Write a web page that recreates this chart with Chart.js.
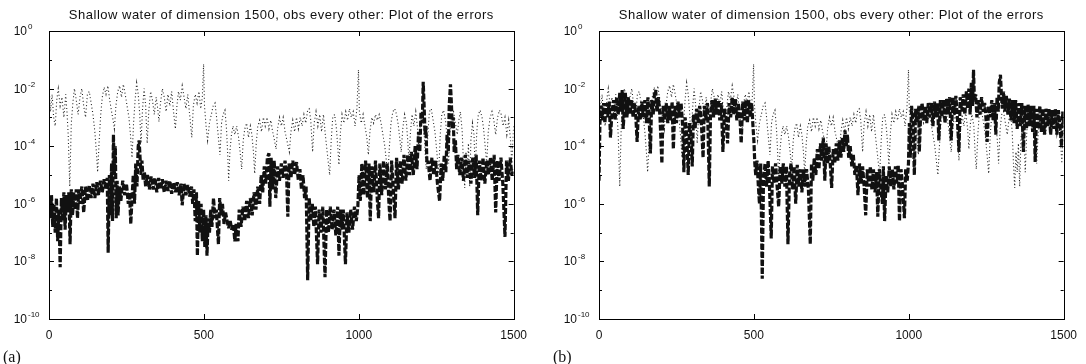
<!DOCTYPE html>
<html>
<head>
<meta charset="utf-8">
<script src="https://cdn.jsdelivr.net/npm/chart.js@4.4.0/dist/chart.umd.min.js"></script>
<style>
    body { margin: 0; background: #fff; width: 1086px; height: 364px; position: relative; overflow: hidden; }
    .panel { position: absolute; top: 0; }
    .tag { position: absolute; top: 348px; font: 16px "Liberation Serif", "Times New Roman", serif; color: #111; }
</style>
</head>
<body>
<canvas id="chartA" class="panel" style="left:0px" width="536" height="364"></canvas>
<canvas id="chartB" class="panel" style="left:550px" width="536" height="364"></canvas>
<div class="tag" style="left:3px">(a)</div>
<div class="tag" style="left:553px">(b)</div>

<script>
// Shallow water errors - two log plots, dotted reference error + thick dashed filter error

const titleText = 'Shallow water of dimension 1500, obs every other: Plot of the errors';
const xTicks = [0, 500, 1000, 1500];
const yDecades = [0, -1, -2, -3, -4, -5, -6, -7, -8, -9, -10];
const yLabelled = [0, -2, -4, -6, -8, -10];

// values as [x, log10(error)]
// dotted curve (same in both panels)
const dottedErr = [
    [0,-1.9],[5,-2.8],[10,-2.2],[15,-3.0],[20,-3.3],[25,-2.4],[30,-2.0],[36,-2.6],[42,-2.3],[48,-3.0],
    [54,-2.2],[58,-2.8],[62,-3.6],[67,-5.4],[72,-3.2],[77,-2.5],[82,-2.0],[88,-2.4],[94,-2.9],[100,-2.3],
    [106,-2.0],[112,-2.6],[118,-3.0],[124,-2.2],[130,-2.1],[136,-2.5],[142,-2.9],[148,-3.5],[153,-4.2],[157,-4.9],
    [162,-3.8],[167,-2.9],[172,-2.3],[178,-1.95],[184,-2.2],[190,-1.9],[196,-2.4],[202,-2.8],[207,-3.1],[211,-3.4],
    [216,-2.6],[222,-2.1],[228,-1.9],[234,-2.3],[240,-1.85],[246,-2.2],[252,-2.6],[258,-3.0],[263,-3.6],[268,-4.4],
    [273,-3.2],[278,-2.4],[283,-1.8],[288,-2.2],[293,-2.9],[297,-3.9],[302,-2.7],[307,-2.0],[312,-2.6],[317,-3.9],
    [322,-2.8],[328,-2.1],[334,-2.4],[340,-2.9],[346,-2.3],[351,-2.7],[355,-3.15],[360,-2.5],[366,-2.0],[372,-2.3],
    [378,-2.8],[384,-2.2],[390,-2.6],[396,-2.1],[402,-2.8],[408,-3.4],[413,-2.6],[418,-2.1],[424,-2.4],[430,-1.9],
    [436,-2.3],[442,-2.7],[448,-2.2],[454,-2.9],[461,-3.7],[466,-2.6],[472,-2.2],[478,-2.5],[484,-2.1],[490,-2.7],
    [495,-2.3],[499,-1.15],[502,-2.6],[507,-3.3],[512,-3.8],[518,-3.2],[524,-2.9],[530,-2.6],[536,-2.5],[541,-3.0],
    [546,-3.6],[552,-4.3],[557,-3.2],[562,-2.9],[568,-2.75],[573,-3.4],[577,-4.3],[580,-5.2],[584,-4.2],[589,-3.6],
    [594,-3.3],[600,-3.6],[606,-3.3],[612,-3.7],[617,-4.2],[622,-4.8],[627,-3.8],[632,-3.4],[638,-3.2],[644,-3.7],
    [650,-3.3],[655,-3.6],[660,-4.2],[664,-4.95],[669,-3.9],[674,-3.3],[680,-3.1],[686,-3.5],[692,-3.0],[698,-3.3],
    [704,-3.0],[710,-3.4],[716,-3.1],[722,-3.5],[728,-3.8],[733,-4.1],[738,-3.4],[744,-3.0],[750,-3.3],[756,-3.0],
    [762,-3.5],[768,-3.8],[772,-4.0],[776,-4.2],[781,-3.5],[787,-3.1],[793,-3.5],[799,-3.0],[805,-3.4],[811,-3.0],
    [817,-3.3],[823,-2.9],[829,-3.2],[835,-2.75],[840,-2.7],[845,-3.1],[851,-4.2],[856,-3.2],[862,-2.8],[868,-3.3],
    [874,-2.9],[880,-3.5],[886,-2.9],[892,-3.6],[898,-4.2],[902,-4.6],[906,-5.0],[911,-3.8],[916,-3.0],[922,-2.9],
    [928,-3.4],[932,-4.0],[936,-4.65],[941,-3.5],[946,-2.9],[952,-3.2],[958,-2.8],[964,-3.1],[970,-2.7],[976,-3.0],
    [982,-2.8],[988,-3.3],[994,-2.7],[999,-1.35],[1002,-2.8],[1008,-3.2],[1014,-2.9],[1020,-3.3],[1026,-3.7],[1031,-4.3],
    [1036,-3.5],[1042,-3.0],[1048,-3.2],[1054,-2.9],[1060,-3.1],[1066,-2.9],[1072,-3.2],[1078,-3.6],[1084,-4.0],[1090,-4.6],
    [1094,-5.0],[1099,-4.0],[1104,-3.2],[1110,-2.8],[1116,-2.7],[1122,-2.9],[1128,-3.3],[1133,-3.8],[1137,-4.2],[1142,-3.4],
    [1148,-2.9],[1154,-3.2],[1158,-3.8],[1162,-4.5],[1167,-3.5],[1172,-2.9],[1178,-3.3],[1184,-2.8],[1190,-3.4],[1194,-4.1],
    [1199,-3.2],[1204,-2.9],[1210,-3.3],[1214,-4.2],[1218,-4.8],[1223,-3.6],[1228,-2.8],[1234,-2.7],[1240,-3.1],[1246,-3.5],
    [1252,-4.2],[1258,-4.95],[1263,-3.6],[1268,-2.9],[1274,-2.75],[1280,-3.1],[1286,-3.8],[1290,-4.6],[1295,-3.4],[1300,-2.9],
    [1306,-2.8],[1312,-3.2],[1318,-3.6],[1323,-3.1],[1328,-2.8],[1334,-3.5],[1338,-4.6],[1342,-5.45],[1346,-4.2],[1350,-4.9],
    [1354,-3.9],[1358,-5.4],[1362,-3.8],[1367,-3.2],[1372,-3.6],[1376,-4.9],[1381,-3.5],[1386,-2.9],[1392,-2.75],[1398,-3.0],
    [1403,-3.4],[1408,-4.0],[1413,-4.6],[1418,-3.5],[1424,-3.0],[1430,-2.8],[1436,-3.1],[1442,-3.6],[1448,-3.0],[1454,-2.75],
    [1460,-2.9],[1466,-3.3],[1472,-3.0],[1478,-3.6],[1484,-3.1],[1490,-3.8],[1494,-4.6],[1500,-3.3]
];

// thick dashed curve, panel (a)
const dashedErrA = [
    [0,-5.9],[4,-6.5],[8,-5.7],[12,-6.8],[16,-6.0],[20,-7.0],[24,-5.8],[28,-7.3],[32,-6.2],[36,-8.2],
    [40,-5.8],[44,-6.6],[48,-5.6],[52,-6.9],[56,-5.7],[60,-6.3],[64,-5.6],[68,-7.4],[72,-5.5],[76,-6.4],
    [80,-5.6],[84,-6.2],[88,-5.5],[92,-6.5],[96,-5.5],[100,-6.0],[106,-5.4],[112,-6.3],[118,-5.4],[124,-5.9],
    [130,-5.35],[136,-5.8],[142,-5.3],[148,-5.8],[154,-5.25],[160,-5.7],[166,-5.2],[172,-5.6],[178,-5.15],[184,-5.5],
    [188,-5.1],[191,-7.7],[195,-5.0],[199,-6.4],[202,-4.6],[205,-6.6],[208,-3.6],[211,-5.0],[214,-4.0],[217,-6.5],
    [220,-5.2],[223,-6.4],[227,-5.4],[232,-5.9],[238,-5.2],[244,-5.7],[250,-5.3],[256,-6.0],[260,-5.6],[264,-6.7],
    [268,-5.8],[272,-5.0],[276,-6.0],[280,-4.6],[284,-5.4],[288,-4.0],[291,-3.8],[294,-4.4],[297,-5.0],[300,-4.5],
    [304,-5.2],[308,-4.9],[312,-5.4],[318,-5.0],[324,-5.5],[330,-5.05],[336,-5.5],[342,-5.1],[348,-5.6],[354,-5.1],
    [360,-5.5],[366,-5.15],[372,-5.6],[378,-5.2],[384,-5.55],[390,-5.2],[396,-5.65],[402,-5.25],[408,-5.6],[414,-5.25],
    [420,-5.7],[426,-5.3],[430,-6.05],[436,-5.3],[442,-5.7],[448,-5.35],[454,-5.75],[460,-5.4],[464,-6.0],[468,-5.5],
    [472,-6.6],[476,-5.6],[479,-7.8],[483,-5.9],[487,-7.0],[491,-6.0],[495,-7.3],[499,-6.2],[503,-7.5],[507,-6.4],
    [510,-7.8],[514,-6.5],[518,-7.0],[522,-6.2],[526,-6.8],[531,-5.8],[536,-6.5],[540,-6.2],[544,-6.9],[547,-7.4],
    [551,-5.8],[556,-6.4],[560,-6.0],[565,-6.7],[570,-6.3],[575,-6.6],[580,-6.85],[585,-6.6],[590,-6.9],[595,-6.7],
    [600,-7.3],[604,-6.7],[610,-7.3],[614,-6.2],[620,-6.8],[626,-6.1],[632,-6.6],[638,-5.9],[644,-6.5],[650,-5.8],
    [656,-6.4],[662,-5.6],[668,-6.2],[674,-5.4],[680,-6.0],[685,-5.0],[690,-5.6],[695,-4.7],[700,-5.3],[705,-4.4],
    [710,-4.25],[713,-6.1],[717,-4.4],[722,-5.5],[727,-4.5],[732,-5.8],[738,-4.7],[744,-5.2],[750,-4.6],[756,-5.1],
    [762,-4.5],[767,-5.0],[771,-6.45],[775,-4.6],[781,-5.1],[787,-4.5],[793,-5.0],[799,-4.55],[805,-5.2],[810,-4.8],
    [815,-5.5],[820,-5.0],[825,-5.8],[830,-5.4],[835,-8.65],[840,-5.8],[845,-6.6],[850,-6.0],[855,-6.8],[860,-6.1],
    [867,-8.1],[872,-6.2],[878,-7.0],[884,-6.1],[891,-8.55],[896,-6.2],[902,-7.0],[908,-6.1],[914,-6.9],[920,-6.2],
    [926,-7.1],[932,-6.1],[936,-7.8],[941,-6.2],[946,-6.9],[950,-6.2],[957,-8.1],[962,-6.3],[968,-7.0],[974,-6.2],
    [980,-6.9],[986,-6.1],[992,-6.6],[997,-6.1],[1001,-5.0],[1005,-5.9],[1010,-4.6],[1016,-5.7],[1022,-4.5],[1028,-5.8],
    [1033,-4.6],[1037,-6.6],[1042,-4.7],[1048,-5.6],[1054,-4.5],[1060,-5.9],[1064,-6.5],[1068,-4.6],[1074,-5.7],[1080,-4.5],
    [1086,-5.5],[1092,-4.6],[1097,-5.9],[1101,-6.6],[1106,-4.5],[1112,-5.6],[1117,-6.5],[1122,-4.4],[1128,-5.5],[1134,-4.5],
    [1140,-5.3],[1146,-4.3],[1152,-5.2],[1158,-4.3],[1164,-5.0],[1170,-4.2],[1176,-5.0],[1182,-4.0],[1188,-4.8],[1193,-3.5],
    [1197,-4.2],[1201,-2.8],[1205,-3.2],[1208,-1.76],[1211,-2.6],[1214,-3.6],[1217,-3.3],[1220,-4.6],[1224,-4.5],[1230,-5.2],
    [1236,-4.4],[1242,-5.0],[1248,-4.5],[1254,-5.3],[1261,-5.9],[1266,-4.6],[1271,-5.2],[1276,-4.3],[1281,-4.9],[1285,-3.6],
    [1289,-4.2],[1292,-2.6],[1296,-1.85],[1299,-2.5],[1302,-3.4],[1305,-3.0],[1308,-4.2],[1312,-3.8],[1316,-4.8],[1320,-4.3],
    [1326,-5.0],[1332,-4.4],[1338,-5.2],[1344,-4.3],[1350,-5.1],[1356,-4.5],[1362,-5.3],[1368,-4.4],[1374,-5.1],[1379,-4.3],
    [1384,-6.4],[1389,-4.5],[1395,-5.2],[1401,-4.4],[1407,-5.3],[1413,-4.5],[1419,-5.0],[1425,-4.4],[1431,-5.2],[1437,-4.3],
    [1442,-6.3],[1447,-4.5],[1453,-5.2],[1459,-4.4],[1465,-5.3],[1472,-7.15],[1477,-4.5],[1483,-5.2],[1489,-4.4],[1494,-5.0],
    [1500,-4.8]
];

// thick dashed curve, panel (b)
const dashedErrB = [
    [0,-5.2],[3,-3.2],[7,-2.6],[11,-3.1],[15,-2.5],[19,-3.2],[23,-2.5],[28,-3.0],[33,-2.45],[37,-3.7],
    [42,-2.8],[47,-2.4],[52,-3.1],[57,-2.3],[62,-2.9],[67,-2.15],[71,-2.8],[75,-2.05],[78,-3.4],[85,-2.15],
    [90,-3.0],[95,-2.3],[100,-2.9],[105,-2.4],[110,-3.0],[115,-2.5],[119,-3.0],[123,-3.85],[128,-2.6],[133,-3.1],
    [138,-2.45],[143,-3.0],[148,-2.4],[153,-3.2],[158,-2.3],[162,-3.0],[166,-4.25],[170,-2.4],[175,-2.9],[179,-2.2],
    [183,-2.05],[187,-2.8],[192,-2.3],[197,-3.0],[203,-4.6],[207,-2.6],[212,-3.1],[217,-2.5],[222,-3.2],[227,-2.6],
    [232,-3.1],[236,-2.45],[240,-4.1],[245,-2.6],[250,-3.2],[255,-2.45],[260,-3.0],[265,-2.5],[270,-3.3],[274,-4.9],
    [278,-3.0],[283,-3.5],[288,-5.0],[292,-3.2],[297,-3.6],[301,-4.7],[305,-2.9],[310,-3.4],[315,-2.7],[320,-3.2],
    [325,-2.6],[330,-3.1],[336,-4.4],[340,-2.6],[345,-3.1],[350,-2.5],[356,-5.4],[360,-2.9],[365,-2.4],[370,-3.0],
    [375,-2.35],[380,-2.9],[385,-2.4],[390,-3.1],[395,-2.5],[400,-4.2],[405,-2.7],[410,-3.0],[415,-3.9],[420,-2.5],
    [425,-3.0],[430,-2.3],[435,-2.9],[440,-2.35],[445,-3.1],[450,-2.5],[455,-3.0],[459,-3.9],[464,-2.45],[469,-3.1],
    [474,-2.4],[479,-3.2],[483,-2.4],[488,-3.0],[493,-2.5],[497,-3.3],[500,-3.8],[503,-4.6],[506,-5.0],[510,-4.5],
    [514,-5.3],[518,-6.0],[522,-4.6],[527,-8.6],[531,-5.2],[536,-4.6],[541,-5.4],[546,-4.5],[550,-5.3],[556,-7.2],
    [560,-4.7],[565,-5.3],[570,-4.6],[575,-5.4],[580,-6.1],[585,-4.7],[590,-5.3],[595,-4.6],[600,-5.4],[605,-4.7],
    [610,-7.4],[615,-5.0],[620,-4.6],[625,-5.5],[630,-4.7],[635,-6.0],[640,-4.65],[645,-5.4],[650,-4.8],[655,-5.6],
    [660,-4.8],[665,-5.4],[670,-4.8],[676,-5.5],[682,-7.4],[686,-4.6],[690,-5.2],[695,-4.4],[700,-5.0],[705,-4.1],
    [710,-4.8],[715,-3.9],[719,-4.5],[724,-3.7],[729,-5.2],[733,-3.9],[738,-4.6],[742,-4.0],[747,-4.7],[751,-5.45],
    [756,-4.1],[761,-4.6],[766,-3.9],[771,-4.5],[776,-3.8],[781,-4.4],[786,-3.7],[790,-4.2],[794,-3.45],[798,-4.0],
    [802,-3.6],[806,-4.4],[811,-4.0],[816,-4.7],[821,-4.3],[826,-5.0],[831,-4.65],[836,-5.7],[841,-4.6],[846,-5.3],
    [851,-4.7],[856,-5.4],[861,-6.4],[866,-4.8],[871,-5.4],[876,-4.7],[881,-5.5],[886,-4.8],[891,-5.6],[896,-4.9],
    [900,-6.45],[905,-4.8],[910,-5.5],[915,-6.0],[918,-4.7],[922,-6.6],[927,-5.0],[932,-5.6],[937,-4.7],[942,-5.4],
    [947,-4.8],[952,-5.5],[957,-4.7],[962,-5.3],[966,-4.65],[970,-6.6],[975,-4.8],[980,-5.4],[986,-6.5],[990,-4.8],
    [995,-5.2],[999,-4.6],[1002,-3.2],[1005,-4.4],[1009,-2.6],[1014,-3.2],[1018,-5.0],[1022,-2.7],[1027,-3.2],[1032,-2.6],
    [1034,-4.2],[1038,-3.0],[1043,-2.5],[1048,-3.1],[1053,-2.6],[1058,-3.2],[1063,-2.5],[1068,-3.0],[1073,-2.5],[1078,-3.3],
    [1083,-2.45],[1088,-3.0],[1093,-2.5],[1097,-3.8],[1102,-2.4],[1107,-3.0],[1112,-2.4],[1117,-3.2],[1122,-2.35],[1127,-2.9],
    [1132,-2.3],[1137,-3.8],[1142,-2.3],[1147,-2.9],[1152,-2.25],[1157,-3.0],[1162,-4.2],[1166,-2.3],[1171,-2.8],[1176,-2.2],
    [1181,-2.9],[1186,-2.1],[1190,-2.7],[1194,-2.0],[1198,-2.9],[1202,-1.8],[1206,-2.6],[1209,-1.35],[1212,-2.4],[1216,-2.2],
    [1220,-3.0],[1225,-2.4],[1230,-2.9],[1235,-2.3],[1240,-2.8],[1245,-2.5],[1249,-3.0],[1253,-3.85],[1258,-2.6],[1263,-3.0],
    [1268,-2.4],[1273,-3.1],[1277,-2.5],[1281,-3.6],[1285,-2.3],[1289,-2.8],[1292,-1.8],[1296,-1.52],[1299,-2.2],[1302,-2.7],
    [1306,-2.1],[1310,-2.8],[1315,-2.25],[1320,-2.9],[1325,-2.35],[1330,-3.1],[1335,-2.4],[1340,-3.2],[1345,-2.4],[1350,-3.4],
    [1355,-2.5],[1360,-3.3],[1365,-2.5],[1370,-4.2],[1375,-2.6],[1380,-3.4],[1385,-2.55],[1390,-3.3],[1395,-2.6],[1400,-3.5],
    [1404,-2.6],[1408,-4.55],[1413,-2.7],[1418,-3.4],[1423,-2.6],[1428,-3.5],[1433,-2.7],[1438,-3.6],[1443,-2.7],[1448,-3.3],
    [1453,-2.7],[1458,-3.6],[1463,-2.75],[1468,-3.4],[1473,-2.7],[1478,-3.6],[1483,-2.75],[1488,-3.3],[1493,-4.0],[1497,-2.8],
    [1500,-3.3]
];

function toPoints(pairs) {
    return pairs.map(p => ({ x: p[0], y: Math.pow(10, p[1]) }));
}

// box, inward ticks, 10^k labels and title, drawn the matlab way
const matlabFrame = {
    id: 'matlabFrame',
    afterDraw(chart) {
        const ctx = chart.ctx;
        const area = chart.chartArea;
        const xs = chart.scales.x;
        const ys = chart.scales.y;
        ctx.save();
        ctx.strokeStyle = '#000';
        ctx.lineWidth = 1;
        ctx.strokeRect(Math.round(area.left) + 0.5, Math.round(area.top) + 0.5,
            Math.round(area.right - area.left), Math.round(area.bottom - area.top));

        ctx.beginPath();
        xTicks.forEach(v => {
            const px = Math.round(xs.getPixelForValue(v)) + 0.5;
            ctx.moveTo(px, area.bottom); ctx.lineTo(px, area.bottom - 5);
            ctx.moveTo(px, area.top); ctx.lineTo(px, area.top + 5);
        });
        yDecades.forEach(e => {
            const py = Math.round(ys.getPixelForValue(Math.pow(10, e))) + 0.5;
            const len = yLabelled.includes(e) ? 5 : 3;
            ctx.moveTo(area.left, py); ctx.lineTo(area.left + len, py);
            ctx.moveTo(area.right, py); ctx.lineTo(area.right - len, py);
        });
        ctx.stroke();

        ctx.fillStyle = '#111';
        yLabelled.forEach(e => {
            const py = ys.getPixelForValue(Math.pow(10, e));
            ctx.font = '12px "Liberation Sans", Arial, sans-serif';
            ctx.textAlign = 'right';
            ctx.textBaseline = 'alphabetic';
            ctx.fillText('10', area.left - 22, py + 4);
            ctx.font = '8px "Liberation Sans", Arial, sans-serif';
            ctx.textAlign = 'left';
            ctx.fillText(String(e), area.left - 21, py - 2);
        });

        ctx.font = '13px "Liberation Sans", Arial, sans-serif';
        ctx.letterSpacing = '0.5px';
        ctx.textAlign = 'center';
        ctx.fillText(titleText, (area.left + area.right) / 2, 19);
        ctx.restore();
    }
};

function makeChart(id, dashed) {
    return new Chart(document.getElementById(id), {
        type: 'line',
        data: {
            datasets: [
                {
                    data: toPoints(dashed),
                    borderColor: '#111',
                    borderWidth: 3.2,
                    borderDash: [6, 2],
                    borderJoinStyle: 'bevel',
                    pointRadius: 0,
                    tension: 0
                },
                {
                    data: toPoints(dottedErr),
                    borderColor: '#222',
                    borderWidth: 1.1,
                    borderDash: [1, 2.5],
                    pointRadius: 0,
                    tension: 0
                }
            ]
        },
        options: {
            responsive: false,
            animation: false,
            events: [],
            layout: { padding: { top: 31, right: 18, left: 0, bottom: 0 } },
            plugins: { legend: { display: false }, tooltip: { enabled: false }, title: { display: false } },
            scales: {
                x: {
                    type: 'linear',
                    min: 0,
                    max: 1500,
                    afterBuildTicks: s => { s.ticks = xTicks.map(v => ({ value: v })); },
                    afterFit: s => { s.height = 45; },
                    grid: { display: false, drawTicks: false },
                    border: { display: false },
                    ticks: {
                        color: '#111',
                        padding: 9,
                        maxRotation: 0,
                        callback: v => String(v),
                        font: { size: 12, family: '"Liberation Sans", Arial, sans-serif' }
                    }
                },
                y: {
                    type: 'logarithmic',
                    min: 1e-10,
                    max: 1,
                    afterBuildTicks: s => { s.ticks = yDecades.map(e => ({ value: Math.pow(10, e) })); },
                    afterFit: s => { s.width = 49; },
                    grid: { display: false, drawTicks: false },
                    border: { display: false },
                    ticks: { display: false }
                }
            }
        },
        plugins: [matlabFrame]
    });
}

makeChart('chartA', dashedErrA);
makeChart('chartB', dashedErrB);
</script>
</body>
</html>
